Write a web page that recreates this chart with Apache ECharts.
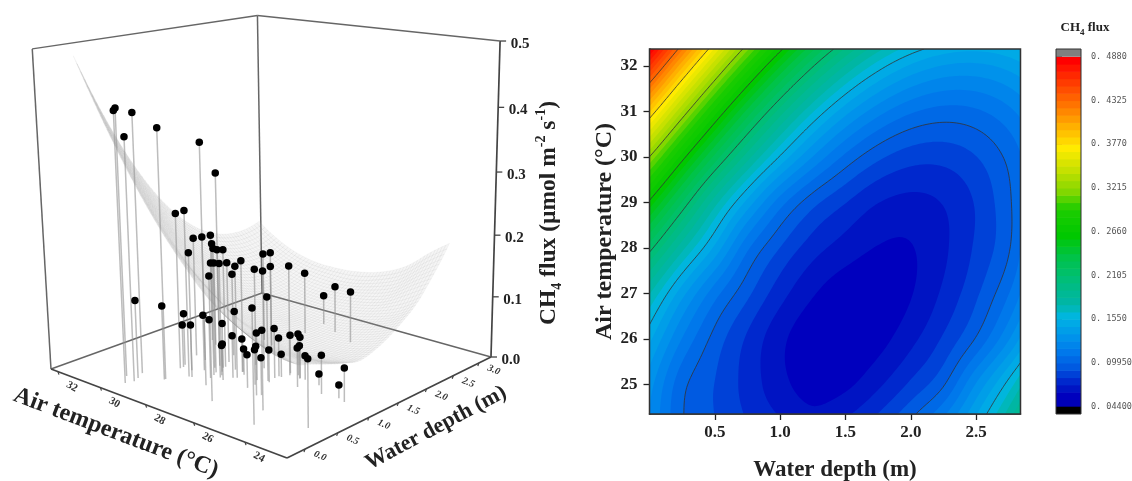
<!DOCTYPE html><html><head><meta charset="utf-8"><script src="https://cdn.jsdelivr.net/npm/echarts@6/dist/echarts.min.js"></script>
<style>html,body{margin:0;background:#fff}#c{width:1132px;height:481px}</style></head><body><div id="c"></div>
<script>
const gridDepth=[0,.25,.5,.75,1,1.25,1.5,1.75,2,2.25,2.5,2.75,3];
const gridTemp=[24,25,26,27,28,29,30,31,32,33];
const flux24=[.1254,.1000,.0905,.0815,.0745,.0680,.0760,.0880,.1049,.1264,.1540,.1876,.2272];
const flux25=[.1309,.1025,.0900,.0775,.0655,.0585,.0605,.0700,.0830,.0985,.1282,.1591,.1959];
const flux26=[.1479,.1175,.0960,.0795,.0650,.0560,.0540,.0590,.0690,.0825,.1005,.1265,.1600];
const flux27=[.1740,.1400,.1125,.0925,.0755,.0634,.0569,.0564,.0619,.0736,.0885,.1085,.1370];
const flux28=[.2146,.1767,.1435,.1105,.0900,.0759,.0675,.0620,.0620,.0700,.0827,.0985,.1286];
const flux29=[.2634,.2193,.1775,.1425,.1130,.0935,.0814,.0720,.0689,.0723,.0820,.0979,.1199];
const flux30=[.3213,.2710,.2261,.1869,.1538,.1269,.1064,.0925,.0851,.0843,.0900,.1020,.1202];
const flux31=[.3876,.3310,.2801,.2354,.1970,.1652,.1401,.1218,.1102,.1054,.1073,.1157,.1304];
const flux32=[.4610,.3982,.3416,.2915,.2482,.2117,.1822,.1598,.1444,.1360,.1345,.1397,.1513];
const flux33=[.5402,.4716,.4096,.3545,.3065,.2658,.2324,.2064,.1877,.1762,.1718,.1744,.1835];
const fluxTable=[flux24,flux25,flux26,flux27,flux28,flux29,flux30,flux31,flux32,flux33];
const contourLevels=[.0995,.155,.2105,.266,.3215,.377,.4325];
const depthTicks=[.5,1,1.5,2,2.5];
const tempTicks=[25,26,27,28,29,30,31,32];
const barTicks=[.488,.4325,.377,.3215,.266,.2105,.155,.0995,.044];
const barLabels=['0. 4880','0. 4325','0. 3770','0. 3215','0. 2660','0. 2105','0. 1550','0. 09950','0. 04400'];
const colorStops=[[.044,0,0,175],[.0625,0,0,190],[.0717,0,20,195],[.081,0,40,205],[.0902,0,65,215],[.0995,0,90,225],[.118,0,120,235],[.136,0,145,235],[.155,0,170,230],[.17,0,190,215],[.175,0,180,175],[.2105,0,190,120],[.24,0,195,70],[.266,0,200,0],[.3,30,205,0],[.3215,130,215,0],[.35,200,225,0],[.377,255,235,0],[.405,255,175,0],[.4325,255,115,0],[.46,255,60,0],[.488,255,0,0]];
const ptTemp=[29.7,30.1,29.9,29.0,29.6,27.7,27.8,29.3,28.6,29.7,29.2,28.1,28.5,28.2,28.5,28.3,28.9,29.0,28.5,30.3,29.9,27.9,28.5,27.6,27.4,28.2,26.3,27.7,27.3,28.8,26.7,26.5,29.7,29.0,24.6,27.9,29.4,28.6,28.0,28.3,29.3,28.5,26.5,25.1,26.8,27.5,26.5,26.4,26.1,25.9,27.6,27.6,28.1,27.4,26.0,26.6,26.4,26.6,26.4,25.9,25.9,25.5,25.7,23.3,24.6,23.7,25.1,24.0,28.4,28.5,27.7,26.7];
const ptDepth=[0,.15,.32,.37,.10,.53,.79,.70,.59,1.10,1.06,.80,.96,.87,1.04,1.06,.74,1.98,1.91,1.58,1.49,.85,1.19,1.08,.91,1.79,1.34,1.33,1.31,1.38,.26,1.06,.19,.35,.10,1.07,.81,.83,.71,1.02,.75,.60,1.17,.43,1.00,.88,1.24,1.39,1.40,1.35,1.07,.76,.93,1.02,.68,.89,1.04,.77,1.24,.72,1.34,1.14,1.35,.40,1.16,1.15,1.33,1.19,2.47,2.86,2.73,2.58];
const ptFlux=[.419,.417,.408,.390,.379,.374,.321,.249,.263,.194,.202,.223,.201,.199,.189,.190,.190,.147,.156,.132,.139,.179,.163,.179,.178,.140,.175,.156,.158,.135,.192,.134,.125,.118,.173,.095,.084,.090,.094,.073,.069,.084,.080,.122,.076,.068,.062,.062,.067,.066,.054,.058,.043,.042,.077,.056,.052,.053,.037,.059,.053,.062,.039,.103,.061,.053,.018,.021,.104,.050,.079,.086];
const zTicks=[0,.1,.2,.3,.4,.5];
const tTicks3d=[24,26,28,30,32];
const dTicks3d=[0,.5,1,1.5,2,2.5,3];

const SERIF='"Liberation Serif","Times New Roman",serif';
const XR=[0,2.84],YR=[24.355,32.37];
function camera(u,v,w){const W=1+.1878*u+.1707*v-.07*w;return [(287+296.2*u-227.3*v-24.2*w)/W,(458-33.95*u-26*v-378.2*w)/W];}
function proj(d,t,f){return camera(.0753+.2849*d,.156+.1012*(t-24),f/.5);}
const SURF_T_SHIFT=-1;
function cr(a,b,c,e,s){return .5*(2*b+(c-a)*s+(2*a-5*b+4*c-e)*s*s+(3*b-a-3*c+e)*s*s*s);}
function at(i,j){const nr=fluxTable.length,nc=gridDepth.length;
 if(j<0)return 2*at(i,0)-at(i,1);if(j>=nc)return 2*at(i,nc-1)-at(i,nc-2);
 if(i<0)return 2*at(0,j)-at(1,j);if(i>=nr)return 2*at(nr-1,j)-at(nr-2,j);return fluxTable[i][j];}
function fluxAt(d,t){const x=d/.25,y=t-24;const j=Math.min(gridDepth.length-2,Math.floor(x)),i=Math.min(gridTemp.length-2,Math.floor(y));const sx=x-j,sy=y-i;const r=[];for(let k=-1;k<3;k++)r.push(cr(at(i+k,j-1),at(i+k,j),at(i+k,j+1),at(i+k,j+2),sx));return cr(r[0],r[1],r[2],r[3],sy);}
const NX=110,NY=110,field=[];
for(let j=0;j<=NY;j++){const r=[];for(let i=0;i<=NX;i++)r.push(fluxAt(XR[0]+(XR[1]-XR[0])*i/NX,YR[0]+(YR[1]-YR[0])*j/NY));field.push(r);}
const fx=i=>XR[0]+(XR[1]-XR[0])*i/NX,fy=j=>YR[0]+(YR[1]-YR[0])*j/NY;
function colorOf(v){for(let k=0;k<colorStops.length-1;k++){const a=colorStops[k],b=colorStops[k+1];if(v<=b[0]+1e-9){const s=Math.max(0,(v-a[0])/(b[0]-a[0]));return `rgb(${[1,2,3].map(n=>Math.round(a[n]+(b[n]-a[n])*s)).join(',')})`;}}return 'rgb(255,0,0)';}
const STEP=.00925,bands=[];for(let k=0;k<48;k++)bands.push(.044+k*STEP);
function bandPath(L,api){let s='';const P=(i,j)=>{const p=api.coord([fx(i),fy(j)]);return p[0].toFixed(2)+' '+p[1].toFixed(2);};
 for(let j=0;j<NY;j++){let run=-1;for(let i=0;i<=NX;i++){
  const full=i<NX&&field[j][i]>=L&&field[j][i+1]>=L&&field[j+1][i]>=L&&field[j+1][i+1]>=L;
  if(full){if(run<0)run=i;continue;}
  if(run>=0){s+=`M${P(run,j)}L${P(i,j)}L${P(i,j+1)}L${P(run,j+1)}Z`;run=-1;}
  if(i===NX)break;
  const c=[[i,j],[i+1,j],[i+1,j+1],[i,j+1]];const vals=c.map(q=>field[q[1]][q[0]]);if(vals.every(v=>v<L))continue;
  const pts=[];for(let k=0;k<4;k++){const a=vals[k],b=vals[(k+1)%4],A=c[k],B=c[(k+1)%4];if(a>=L)pts.push([A[0],A[1]]);if((a>=L)!==(b>=L)){const m=(L-a)/(b-a);pts.push([A[0]+(B[0]-A[0])*m,A[1]+(B[1]-A[1])*m]);}}
  s+='M'+pts.map(q=>P(q[0],q[1])).join('L')+'Z';
 }}
 return s;}
function linePath(L,api){let s='';const P=(i,j)=>{const p=api.coord([fx(i),fy(j)]);return p[0].toFixed(2)+' '+p[1].toFixed(2);};
 for(let j=0;j<NY;j++)for(let i=0;i<NX;i++){const c=[[i,j],[i+1,j],[i+1,j+1],[i,j+1]];const vals=c.map(q=>field[q[1]][q[0]]);const pts=[];
  for(let k=0;k<4;k++){const a=vals[k],b=vals[(k+1)%4],A=c[k],B=c[(k+1)%4];if((a>=L)!==(b>=L)){const m=(L-a)/(b-a);pts.push([A[0]+(B[0]-A[0])*m,A[1]+(B[1]-A[1])*m]);}}
  if(pts.length>=2)s+=`M${P(pts[0][0],pts[0][1])}L${P(pts[1][0],pts[1][1])}`;}
 return s;}
const edges=[[[0,1,0],[0,1,1],'#666',1.5],[[1,1,0],[1,1,1],'#666',1.5],[[1,0,0],[1,0,1],'#444',1.7],[[0,1,1],[1,1,1],'#666',1.5],[[1,1,1],[1,0,1],'#666',1.5],[[0,1,0],[1,1,0],'#666',1.5],[[1,1,0],[1,0,0],'#666',1.5],[[0,0,0],[0,1,0],'#444',1.7],[[0,0,0],[1,0,0],'#444',1.7]];
const NS=60,quads=[];for(let j=0;j<NS;j++)for(let i=0;i<NS;i++)quads.push([i,j]);
const S=(i,j)=>{const d=XR[0]+(XR[1]-XR[0])*i/NS,t=YR[0]+(YR[1]-YR[0])*j/NS;return proj(d,t+SURF_T_SHIFT,fluxAt(d,t));};
const pts=ptTemp.map((t,i)=>[t,ptDepth[i],ptFlux[i]]);
const pix={xAxisIndex:0,yAxisIndex:0};
const txt=(x,y,t,size,rot)=>({type:'text',x,y,rotation:rot||0,silent:true,style:{text:t,font:`bold ${size}px ${SERIF}`,fill:'#222',align:'center',verticalAlign:'middle'}});
const axisCommon={axisLabel:{fontFamily:SERIF,fontWeight:'bold',fontSize:17,color:'#222',margin:10},axisTick:{length:6,lineStyle:{color:'#222',width:1.3}},axisLine:{show:true,onZero:false,lineStyle:{color:'#222',width:1.5}},splitLine:{show:false},nameLocation:'middle',nameTextStyle:{fontFamily:SERIF,fontWeight:'bold',fontSize:23,color:'#222'}};
const option={animation:false,backgroundColor:'#fff',
 grid:[{left:0,top:0,width:1132,height:481,show:false,outerBoundsMode:'none'},{left:649.5,top:49,width:371,height:365,show:true,borderColor:'#333',borderWidth:1.5,z:5,outerBoundsMode:'none'},{left:1056,top:49,width:25,height:365,show:false,outerBoundsMode:'none'}],
 xAxis:[{type:'value',gridIndex:0,min:0,max:1132,show:false},
  Object.assign({},axisCommon,{type:'value',gridIndex:1,min:XR[0],max:XR[1],name:'Water depth (m)',nameGap:45,axisTick:Object.assign({},axisCommon.axisTick,{customValues:depthTicks}),axisLabel:Object.assign({},axisCommon.axisLabel,{customValues:depthTicks,formatter:v=>v.toFixed(1)})}),
  {type:'value',gridIndex:2,min:0,max:1,show:false}],
 yAxis:[{type:'value',gridIndex:0,min:0,max:481,inverse:true,show:false},
  Object.assign({},axisCommon,{type:'value',gridIndex:1,min:YR[0],max:YR[1],name:'Air temperature (°C)',nameGap:33,nameTextStyle:Object.assign({},axisCommon.nameTextStyle,{fontSize:24}),axisTick:Object.assign({},axisCommon.axisTick,{customValues:tempTicks}),axisLabel:Object.assign({},axisCommon.axisLabel,{margin:12,customValues:tempTicks,formatter:v=>String(v)})}),
  {type:'value',gridIndex:2,min:.0347,max:.4978,position:'right',axisLine:{show:false},splitLine:{show:false},axisTick:{length:6,lineStyle:{color:'#444'},customValues:barTicks},axisLabel:{customValues:barTicks,margin:10,fontFamily:'"DejaVu Sans Mono"',fontSize:8.5,color:'#555',formatter:v=>barLabels[barTicks.findIndex(b=>Math.abs(b-v)<1e-6)]||''}}],
 series:[
  {type:'custom',...pix,silent:true,z:1,clip:false,data:edges.map((e,i)=>i),renderItem:(p,api)=>{const e=edges[p.dataIndex];const a=api.coord(camera(...e[0])),b=api.coord(camera(...e[1]));return {type:'line',shape:{x1:a[0],y1:a[1],x2:b[0],y2:b[1]},style:{stroke:e[2],lineWidth:e[3],fill:null}};}},
  {type:'custom',...pix,silent:true,z:2,clip:false,data:quads,renderItem:(p,api)=>{const [i,j]=quads[p.dataIndex];const q=[S(i,j),S(i+1,j),S(i+1,j+1),S(i,j+1)].map(c=>api.coord(c));return {type:'polygon',shape:{points:q},style:{fill:'rgba(185,185,185,.14)',stroke:'rgba(130,130,130,.1)',lineWidth:.5}};}},
  {type:'custom',...pix,silent:true,z:3,clip:false,data:pts,renderItem:(p,api)=>{const q=pts[p.dataIndex];const a=api.coord(proj(q[1],q[0],0)),a0=api.coord(proj(q[1],q[0],q[2]));return {type:'line',shape:{x1:a0[0],y1:a0[1],x2:a[0],y2:a[1]},style:{stroke:'rgba(145,145,145,.6)',lineWidth:1.5,fill:null}};}},
  {type:'scatter',...pix,silent:true,z:4,symbol:'circle',symbolSize:7.5,itemStyle:{color:'#000',opacity:1},data:pts.map(q=>proj(q[1],q[0],q[2]))},
  {type:'custom',...pix,silent:true,z:4,clip:false,data:zTicks,renderItem:(p,api)=>{const z=zTicks[p.dataIndex];const c=api.coord(camera(1,0,z/.5));return {type:'group',children:[{type:'line',shape:{x1:c[0],y1:c[1],x2:c[0]+6,y2:c[1]},style:{stroke:'#444',lineWidth:1.3}},{type:'text',x:c[0]+20,y:c[1]+3,style:{text:z.toFixed(1),font:`bold 15px ${SERIF}`,fill:'#222',align:'center',verticalAlign:'middle'}}]};}},
  {type:'custom',...pix,silent:true,z:4,clip:false,data:tTicks3d,renderItem:(p,api)=>{const t=tTicks3d[p.dataIndex];const c=api.coord(camera(0,.156+.1012*(t-24),0));return {type:'group',children:[{type:'line',shape:{x1:c[0],y1:c[1],x2:c[0]+1,y2:c[1]+3},style:{stroke:'#444',lineWidth:1.2}},{type:'text',x:c[0]+14,y:c[1]+15,rotation:-.5,style:{text:String(t),font:`bold 11px ${SERIF}`,fill:'#333',align:'center',verticalAlign:'middle'}}]};}},
  {type:'custom',...pix,silent:true,z:4,clip:false,data:dTicks3d,renderItem:(p,api)=>{const d=dTicks3d[p.dataIndex];const c=api.coord(camera(.0753+.2849*d,0,0));return {type:'group',children:[{type:'line',shape:{x1:c[0],y1:c[1],x2:c[0]-1,y2:c[1]+3},style:{stroke:'#444',lineWidth:1.2}},{type:'text',x:c[0]+15,y:c[1]+7,rotation:-.4,style:{text:d.toFixed(1),font:`italic bold 10px ${SERIF}`,fill:'#333',align:'center',verticalAlign:'middle'}}]};}},
  {type:'custom',xAxisIndex:1,yAxisIndex:1,silent:true,z:2,clip:true,data:bands,renderItem:(p,api)=>{const L=bands[p.dataIndex];const d=p.dataIndex===0?`M${api.coord([XR[0],YR[0]]).join(' ')}L${api.coord([XR[1],YR[0]]).join(' ')}L${api.coord([XR[1],YR[1]]).join(' ')}L${api.coord([XR[0],YR[1]]).join(' ')}Z`:bandPath(L,api);if(!d)return null;return {type:'path',shape:{pathData:d},style:{fill:colorOf(L+STEP)}};}},
  {type:'custom',xAxisIndex:1,yAxisIndex:1,silent:true,z:3,clip:true,data:contourLevels,renderItem:(p,api)=>{const d=linePath(contourLevels[p.dataIndex],api);if(!d)return null;return {type:'path',shape:{pathData:d},style:{fill:null,stroke:'#333',lineWidth:1,opacity:.8}};}},
  {type:'custom',xAxisIndex:2,yAxisIndex:2,silent:true,z:2,clip:false,data:bands,renderItem:(p,api)=>{const L=bands[p.dataIndex];const a=api.coord([0,L+STEP]),b=api.coord([1,L]);return {type:'rect',shape:{x:a[0],y:a[1],width:b[0]-a[0],height:b[1]-a[1]+.6},style:{fill:colorOf(L+STEP)}};}},
 ],
 graphic:[
  {type:'rect',shape:{x:1056,y:49,width:25,height:7.7},style:{fill:'#808080'},silent:true,z:6},
  {type:'rect',shape:{x:1056,y:406.7,width:25,height:7.3},style:{fill:'#000'},silent:true,z:6},
  {type:'rect',shape:{x:1056,y:49,width:25,height:365},style:{fill:null,stroke:'#333',lineWidth:1},silent:true,z:6},
  txt(116,433,'Air temperature (°C)',24,-.363),
  txt(436,428,'Water depth (m)',22,.49),
  {type:'text',x:549,y:213,rotation:Math.PI/2,silent:true,style:{text:'{a|CH}{b|4}{a| flux (µmol m}{c|-2}{a| s}{c|-1}{a|)}',align:'center',verticalAlign:'middle',rich:{a:{font:`bold 23.5px ${SERIF}`,fill:'#222',lineHeight:30},b:{font:`bold 14px ${SERIF}`,fill:'#222',verticalAlign:'bottom',lineHeight:30},c:{font:`bold 14px ${SERIF}`,fill:'#222',verticalAlign:'top',lineHeight:30}}}},
  {type:'text',x:1085,y:28,silent:true,style:{text:'{a|CH}{b|4}{a| flux}',align:'center',verticalAlign:'middle',rich:{a:{font:`bold 13px ${SERIF}`,fill:'#222',lineHeight:18},b:{font:`bold 9px ${SERIF}`,fill:'#222',verticalAlign:'bottom',lineHeight:18}}}}
 ]};
echarts.init(document.getElementById('c'),null,{renderer:'canvas'}).setOption(option);
</script></body></html>
